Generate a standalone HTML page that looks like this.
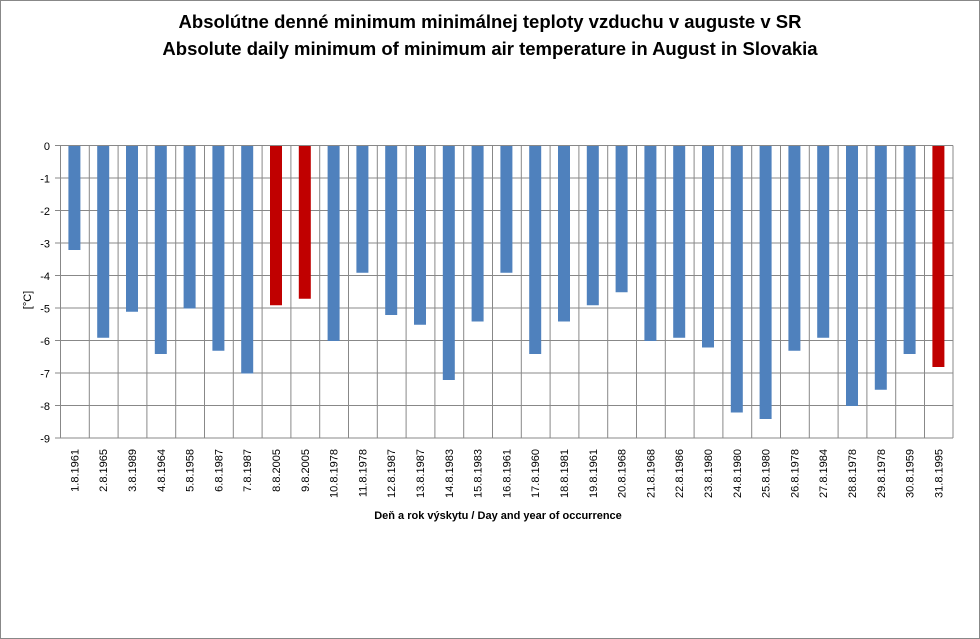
<!DOCTYPE html>
<html><head><meta charset="utf-8"><style>
html,body{margin:0;padding:0;background:#fff}
svg{display:block;font-family:"Liberation Sans",Arial,sans-serif}
</style></head><body>
<svg width="980" height="639" viewBox="0 0 980 639">
<rect x="0.5" y="0.5" width="979" height="638" fill="#fff" stroke="#888"/>
<text x="490" y="28" text-anchor="middle" font-size="18.5" font-weight="bold">Absolútne denné minimum minimálnej teploty vzduchu v auguste v SR</text>
<text x="490" y="55" text-anchor="middle" font-size="18.5" font-weight="bold">Absolute daily minimum of minimum air temperature in August in Slovakia</text>
<g stroke="#888" stroke-width="1">
<line x1="55" y1="145.5" x2="953" y2="145.5"/><line x1="55" y1="178" x2="953" y2="178"/><line x1="55" y1="210.5" x2="953" y2="210.5"/><line x1="55" y1="243" x2="953" y2="243"/><line x1="55" y1="275.5" x2="953" y2="275.5"/><line x1="55" y1="308" x2="953" y2="308"/><line x1="55" y1="340.5" x2="953" y2="340.5"/><line x1="55" y1="373" x2="953" y2="373"/><line x1="55" y1="405.5" x2="953" y2="405.5"/><line x1="55" y1="438" x2="953" y2="438"/>
<line x1="60.5" y1="145.5" x2="60.5" y2="438"/><line x1="89.3" y1="145.5" x2="89.3" y2="438"/><line x1="118.1" y1="145.5" x2="118.1" y2="438"/><line x1="146.9" y1="145.5" x2="146.9" y2="438"/><line x1="175.7" y1="145.5" x2="175.7" y2="438"/><line x1="204.5" y1="145.5" x2="204.5" y2="438"/><line x1="233.3" y1="145.5" x2="233.3" y2="438"/><line x1="262.1" y1="145.5" x2="262.1" y2="438"/><line x1="290.9" y1="145.5" x2="290.9" y2="438"/><line x1="319.7" y1="145.5" x2="319.7" y2="438"/><line x1="348.5" y1="145.5" x2="348.5" y2="438"/><line x1="377.3" y1="145.5" x2="377.3" y2="438"/><line x1="406.1" y1="145.5" x2="406.1" y2="438"/><line x1="434.9" y1="145.5" x2="434.9" y2="438"/><line x1="463.7" y1="145.5" x2="463.7" y2="438"/><line x1="492.5" y1="145.5" x2="492.5" y2="438"/><line x1="521.3" y1="145.5" x2="521.3" y2="438"/><line x1="550.1" y1="145.5" x2="550.1" y2="438"/><line x1="578.9" y1="145.5" x2="578.9" y2="438"/><line x1="607.7" y1="145.5" x2="607.7" y2="438"/><line x1="636.5" y1="145.5" x2="636.5" y2="438"/><line x1="665.3" y1="145.5" x2="665.3" y2="438"/><line x1="694.1" y1="145.5" x2="694.1" y2="438"/><line x1="722.9" y1="145.5" x2="722.9" y2="438"/><line x1="751.7" y1="145.5" x2="751.7" y2="438"/><line x1="780.5" y1="145.5" x2="780.5" y2="438"/><line x1="809.3" y1="145.5" x2="809.3" y2="438"/><line x1="838.1" y1="145.5" x2="838.1" y2="438"/><line x1="866.9" y1="145.5" x2="866.9" y2="438"/><line x1="895.7" y1="145.5" x2="895.7" y2="438"/><line x1="924.5" y1="145.5" x2="924.5" y2="438"/><line x1="953" y1="145.5" x2="953" y2="438"/>
</g>
<g transform="translate(0,146) scale(1,32.5)" fill="#4f81bd">
<rect x="68.4" y="0" width="12" height="3.2"/><rect x="97.2" y="0" width="12" height="5.9"/><rect x="126" y="0" width="12" height="5.1"/><rect x="154.8" y="0" width="12" height="6.4"/><rect x="183.6" y="0" width="12" height="5.0"/><rect x="212.4" y="0" width="12" height="6.3"/><rect x="241.2" y="0" width="12" height="7.0"/><rect x="270" y="0" width="12" height="4.9" fill="#c00000"/><rect x="298.8" y="0" width="12" height="4.7" fill="#c00000"/><rect x="327.6" y="0" width="12" height="6.0"/><rect x="356.4" y="0" width="12" height="3.9"/><rect x="385.2" y="0" width="12" height="5.2"/><rect x="414" y="0" width="12" height="5.5"/><rect x="442.8" y="0" width="12" height="7.2"/><rect x="471.6" y="0" width="12" height="5.4"/><rect x="500.4" y="0" width="12" height="3.9"/><rect x="529.2" y="0" width="12" height="6.4"/><rect x="558" y="0" width="12" height="5.4"/><rect x="586.8" y="0" width="12" height="4.9"/><rect x="615.6" y="0" width="12" height="4.5"/><rect x="644.4" y="0" width="12" height="6.0"/><rect x="673.2" y="0" width="12" height="5.9"/><rect x="702" y="0" width="12" height="6.2"/><rect x="730.8" y="0" width="12" height="8.2"/><rect x="759.6" y="0" width="12" height="8.4"/><rect x="788.4" y="0" width="12" height="6.3"/><rect x="817.2" y="0" width="12" height="5.9"/><rect x="846" y="0" width="12" height="8.0"/><rect x="874.8" y="0" width="12" height="7.5"/><rect x="903.6" y="0" width="12" height="6.4"/><rect x="932.4" y="0" width="12" height="6.8" fill="#c00000"/>
</g>
<g font-size="11" text-anchor="end">
<text x="50" y="150">0</text><text x="50" y="182.5">-1</text><text x="50" y="215">-2</text><text x="50" y="247.5">-3</text><text x="50" y="280">-4</text><text x="50" y="312.5">-5</text><text x="50" y="345">-6</text><text x="50" y="377.5">-7</text><text x="50" y="410">-8</text><text x="50" y="442.5">-9</text>
</g>
<text transform="translate(31,300) rotate(-90)" font-size="11" text-anchor="middle">[°C]</text>
<g font-size="11" text-anchor="end">
<text transform="translate(78.4,449) rotate(-90)">1.8.1961</text><text transform="translate(107.2,449) rotate(-90)">2.8.1965</text><text transform="translate(136,449) rotate(-90)">3.8.1989</text><text transform="translate(164.8,449) rotate(-90)">4.8.1964</text><text transform="translate(193.6,449) rotate(-90)">5.8.1958</text><text transform="translate(222.4,449) rotate(-90)">6.8.1987</text><text transform="translate(251.2,449) rotate(-90)">7.8.1987</text><text transform="translate(280,449) rotate(-90)">8.8.2005</text><text transform="translate(308.8,449) rotate(-90)">9.8.2005</text><text transform="translate(337.6,449) rotate(-90)">10.8.1978</text><text transform="translate(366.4,449) rotate(-90)">11.8.1978</text><text transform="translate(395.2,449) rotate(-90)">12.8.1987</text><text transform="translate(424,449) rotate(-90)">13.8.1987</text><text transform="translate(452.8,449) rotate(-90)">14.8.1983</text><text transform="translate(481.6,449) rotate(-90)">15.8.1983</text><text transform="translate(510.4,449) rotate(-90)">16.8.1961</text><text transform="translate(539.2,449) rotate(-90)">17.8.1960</text><text transform="translate(568,449) rotate(-90)">18.8.1981</text><text transform="translate(596.8,449) rotate(-90)">19.8.1961</text><text transform="translate(625.6,449) rotate(-90)">20.8.1968</text><text transform="translate(654.4,449) rotate(-90)">21.8.1968</text><text transform="translate(683.2,449) rotate(-90)">22.8.1986</text><text transform="translate(712,449) rotate(-90)">23.8.1980</text><text transform="translate(740.8,449) rotate(-90)">24.8.1980</text><text transform="translate(769.6,449) rotate(-90)">25.8.1980</text><text transform="translate(798.4,449) rotate(-90)">26.8.1978</text><text transform="translate(827.2,449) rotate(-90)">27.8.1984</text><text transform="translate(856,449) rotate(-90)">28.8.1978</text><text transform="translate(884.8,449) rotate(-90)">29.8.1978</text><text transform="translate(913.6,449) rotate(-90)">30.8.1959</text><text transform="translate(942.4,449) rotate(-90)">31.8.1995</text>
</g>
<text x="498" y="519" text-anchor="middle" font-size="11" font-weight="bold">Deň a rok výskytu  / Day and year of occurrence</text>
</svg>
</body></html>
